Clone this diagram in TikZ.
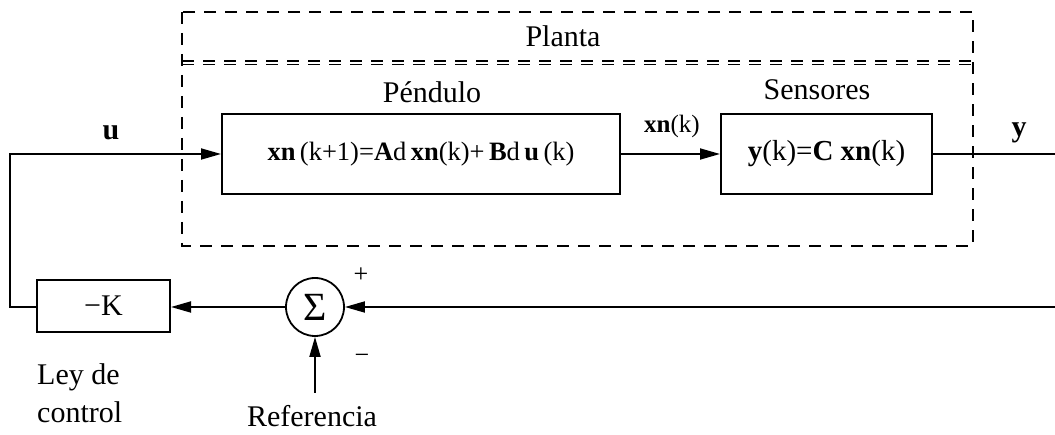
\documentclass[tikz,border=0pt]{standalone}
\usepackage{fontspec}
\setmainfont{Liberation Serif}
\usetikzlibrary{arrows.meta}
\newcommand{\lbfont}{\fontsize{30}{36}\selectfont}
\newcommand{\eqfont}{\fontsize{26.5}{32}\selectfont}
\begin{document}
\begin{tikzpicture}[x=1pt,y=-1pt,
  blk/.style={draw, line width=2pt, inner sep=0pt, font=\eqfont},
  lbl/.style={font=\lbfont, anchor=base, inner sep=0pt},
  sig/.style={line width=1.8pt, -{Triangle[length=20pt,width=11pt]}},
  wire/.style={line width=1.8pt},
  frame/.style={line width=1.4pt, dash pattern=on 12pt off 9pt}]
\useasboundingbox (0,0) rectangle (1055,435);

% plant boundary (dashed)
\draw[frame] (182,12) rectangle (973,246);
\draw[frame] (182,61) -- (973,61);
\draw[frame] (182,64.5) -- (973,64.5);
\node[lbl] (planta) at (563,47) {Planta};

% blocks
\node[blk, minimum width=398pt, minimum height=80pt] (pend) at (421,154)
  {\textbf{xn}\,(k+1)=\textbf{A}d\,\textbf{xn}(k)+\,\textbf{B}d\,\textbf{u}\,(k)};
\node[blk, minimum width=211pt, minimum height=80pt, font=\fontsize{29}{34}\selectfont] (sens) at (826.5,154)
  {\textbf{y}(k)=\textbf{C} \textbf{xn}(k)};
\node[blk, minimum width=133pt, minimum height=52pt, font=\lbfont] (gain) at (103.5,306) {−K};
\node[draw, circle, line width=1.8pt, minimum size=58pt, inner sep=0pt,
  font=\fontsize{40}{44}\selectfont] (sum) at (315,307) {Σ};

% labels
\node[lbl] (lpend) at (432,103) {Péndulo};
\node[lbl] (lsens) at (817,100) {Sensores};
\node[lbl, font=\fontsize{25}{30}\selectfont] (lxn) at (672,133) {\textbf{xn}(k)};
\node[lbl] (lu) at (111,140) {\textbf{u}};
\node[lbl] (ly) at (1019,137) {\textbf{y}};
\node[lbl, font=\fontsize{26}{30}\selectfont] (lplus) at (361,283) {+};
\node[lbl, font=\fontsize{26}{30}\selectfont] (lminus) at (362,364) {−};
\node[lbl] (lref) at (312,427) {Referencia};
\node[lbl, anchor=base west, align=left] (lley) at (37,385) {Ley de};
\node[lbl, anchor=base west, align=left] (lctl) at (37,423) {control};

% signal connectors
\coordinate (yout) at (1055,154);
\coordinate (fbin) at (1055,307);
\coordinate (c1) at (10,307);
\coordinate (c2) at (10,154);
\coordinate (rin) at (315,393);

\draw[sig] (pend.east) -- (sens.west);
\draw[wire] (sens.east) -- (yout);
\draw[sig] (fbin) -- (sum.east);
\draw[sig] (sum.west) -- (gain.east |- sum.west);
\draw[sig] (rin) -- (sum.south);
\draw[sig] (gain.west |- c1) -- (c1) -- (c2) -- (pend.west);
\end{tikzpicture}
\end{document}
